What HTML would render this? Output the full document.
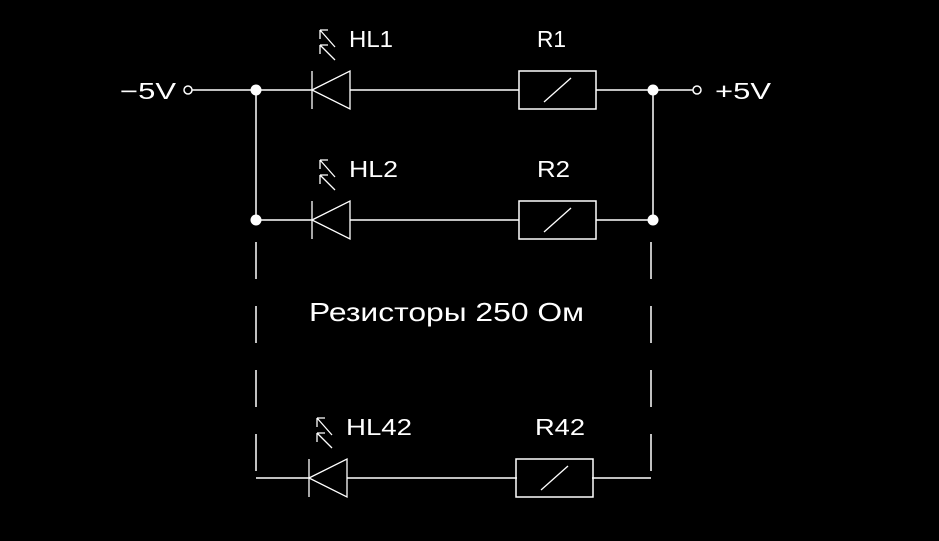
<!DOCTYPE html>
<html><head><meta charset="utf-8"><style>html,body{margin:0;padding:0;background:#000;}svg{display:block}</style></head>
<body>
<svg width="939" height="541" viewBox="0 0 939 541" xmlns="http://www.w3.org/2000/svg">
<rect width="939" height="541" fill="#000"/>
<defs>
<g id="led">
<line x1="0" y1="0" x2="0" y2="38" stroke="#fff" stroke-width="1.3"/>
<polygon points="0,19 38,0 38,38" fill="none" stroke="#fff" stroke-width="1.3"/>
<path d="M23,-24 L8,-41 M8,-41 L8,-32 M8,-41 L16,-41 M23,-11 L8,-26 M8,-26 L8,-17 M8,-26 L16,-26" stroke="#fff" stroke-width="1.3" fill="none"/>
</g>
<g id="res">
<rect x="0" y="0" width="77" height="38" fill="none" stroke="#fff" stroke-width="1.5"/>
<line x1="25" y1="31" x2="52" y2="7" stroke="#fff" stroke-width="1.3"/>
</g>
</defs>
<g stroke="#fff" stroke-width="1.5" fill="none">
<line x1="192" y1="90" x2="312" y2="90"/>
<line x1="350" y1="90" x2="519" y2="90"/>
<line x1="596" y1="90" x2="693" y2="90"/>
<circle cx="188" cy="90" r="4"/>
<circle cx="697" cy="90" r="4"/>
<line x1="256" y1="90" x2="256" y2="220"/>
<line x1="653" y1="90" x2="653" y2="220"/>
<line x1="256" y1="220" x2="312" y2="220"/>
<line x1="350" y1="220" x2="519" y2="220"/>
<line x1="596" y1="220" x2="653" y2="220"/>
<line x1="256" y1="242" x2="256" y2="478" stroke-dasharray="37 27"/>
<line x1="651" y1="242" x2="651" y2="478" stroke-dasharray="37 27"/>
<line x1="256" y1="478" x2="309" y2="478"/>
<line x1="347" y1="478" x2="517" y2="478"/>
<line x1="592" y1="478" x2="651" y2="478"/>
</g>
<g fill="#fff">
<circle cx="256" cy="90" r="5.5"/><circle cx="653" cy="90" r="5.5"/>
<circle cx="256" cy="220" r="5.5"/><circle cx="653" cy="220" r="5.5"/>
</g>
<use href="#led" x="312" y="71"/>
<use href="#led" x="312" y="201"/>
<use href="#led" x="309" y="459"/>
<use href="#res" x="519" y="71"/>
<use href="#res" x="519" y="201"/>
<use href="#res" x="516" y="459"/>
<g fill="#fff" font-family="Liberation Sans, sans-serif" font-size="23">
<text x="120" y="99" textLength="56" lengthAdjust="spacingAndGlyphs">−5V</text>
<text x="715" y="99" textLength="56" lengthAdjust="spacingAndGlyphs">+5V</text>
<text x="349" y="47" textLength="44" lengthAdjust="spacingAndGlyphs">HL1</text>
<text x="537" y="47" textLength="29" lengthAdjust="spacingAndGlyphs">R1</text>
<text x="349" y="177" textLength="49" lengthAdjust="spacingAndGlyphs">HL2</text>
<text x="537" y="177" textLength="33" lengthAdjust="spacingAndGlyphs">R2</text>
<text x="346" y="435" textLength="66" lengthAdjust="spacingAndGlyphs">HL42</text>
<text x="535" y="435" textLength="50" lengthAdjust="spacingAndGlyphs">R42</text>
<text x="309" y="321" font-size="26" textLength="275" lengthAdjust="spacingAndGlyphs">Резисторы 250 Ом</text>
</g>
</svg>
</body></html>
